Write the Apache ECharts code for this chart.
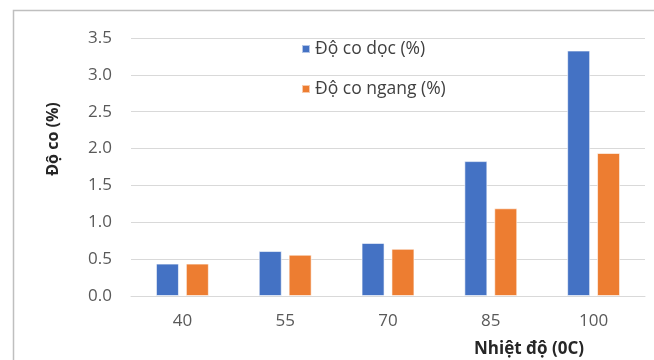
<!DOCTYPE html>
<html><head><meta charset="utf-8">
<script src="https://cdn.jsdelivr.net/npm/echarts@6/dist/echarts.min.js"></script>
<style>html,body{margin:0;padding:0;background:#fff}#c{width:654px;height:360px}</style>
</head><body><div id="c"></div>
<script>
const categories = ['40', '55', '70', '85', '100'];
const seriesNames = ['Độ co dọc (%)', 'Độ co ngang (%)'];
const docValues = [0.44, 0.61, 0.72, 1.83, 3.33];
const ngangValues = [0.44, 0.56, 0.64, 1.19, 1.94];
const yTitle = 'Độ co (%)';
const xTitle = 'Nhiệt độ (0C)';

const font = 'Open Sans';
const chart = echarts.init(document.getElementById('c'));
chart.setOption({
  animation: false,
  color: ['#4472C4', '#ED7D31'],
  textStyle: { fontFamily: font },
  grid: { left: 131, right: 9, top: 38, bottom: 64 },
  legend: {
    orient: 'vertical', left: 296, top: 35,
    itemWidth: 8, itemHeight: 8, itemGap: 22,
    icon: 'rect',
    textStyle: { fontFamily: font, fontSize: 17.5, color: '#404040' },
    data: seriesNames
  },
  xAxis: {
    type: 'category', data: categories,
    axisLine: { lineStyle: { color: '#d9d9d9' } },
    axisTick: { show: false },
    axisLabel: { fontFamily: font, fontSize: 17, color: '#595959', margin: 17 }
  },
  yAxis: {
    type: 'value', min: 0, max: 3.5, interval: 0.5,
    axisLabel: { fontFamily: font, fontSize: 17, color: '#595959', margin: 19,
      formatter: v => v.toFixed(1) },
    splitLine: { lineStyle: { color: '#d9d9d9' } }
  },
  graphic: [
    { type: 'rect', shape: { x: 13.5, y: 10.5, width: 700, height: 400 },
      style: { fill: 'none', stroke: '#bfbfbf', lineWidth: 1.5 }, silent: true },
    { type: 'text', x: 53, y: 139, rotation: Math.PI / 2,
      style: { text: yTitle, font: 'bold 16px "Open Sans"', fill: '#262626', align: 'center', verticalAlign: 'middle' } },
    { type: 'text', x: 529, y: 349,
      style: { text: xTitle, font: 'bold 17px "Open Sans"', fill: '#262626', align: 'center', verticalAlign: 'middle' } }
  ],
  series: [
    { name: seriesNames[0], type: 'bar', data: docValues, barWidth: 23, barGap: '30%',
      itemStyle: { borderColor: 'rgba(255,255,255,0.6)', borderWidth: 1 } },
    { name: seriesNames[1], type: 'bar', data: ngangValues, barWidth: 23, barGap: '30%',
      itemStyle: { borderColor: 'rgba(255,255,255,0.6)', borderWidth: 1 } }
  ]
});
</script></body></html>
